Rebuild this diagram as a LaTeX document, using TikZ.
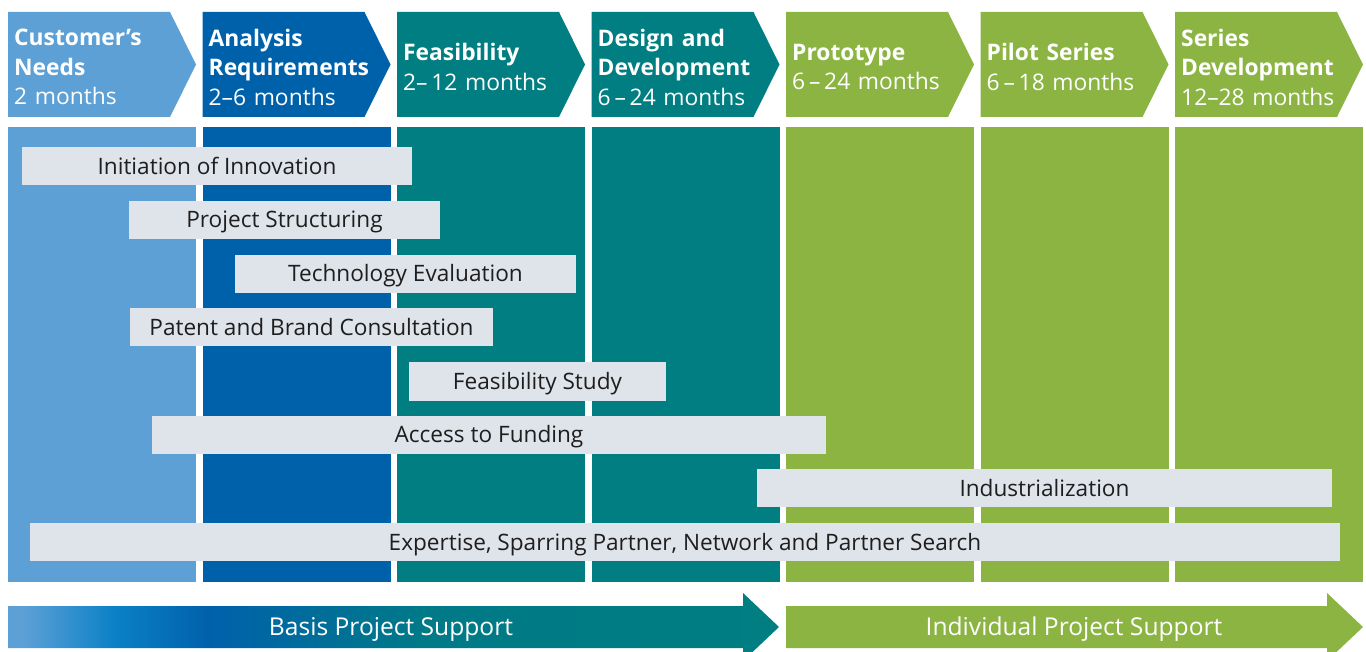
\documentclass[tikz,border=0pt]{standalone}
\usepackage{fontspec}
\setmainfont{Open Sans}
\definecolor{needsblue}{HTML}{5CA0D6}
\definecolor{analysisblue}{HTML}{0061AB}
\definecolor{midblue}{HTML}{0A80C6}
\definecolor{phaseteal}{HTML}{007E81}
\definecolor{phasegreen}{HTML}{8BB443}
\definecolor{barfill}{HTML}{DFE3EA}
\definecolor{bartext}{HTML}{1E1E1E}
\pgfdeclarehorizontalshading{basisshade}{100bp}{
	color(0bp)=(needsblue);
	color(26bp)=(needsblue);
	color(32bp)=(midblue);
	color(38bp)=(analysisblue);
	color(52bp)=(phaseteal!85!analysisblue);
	color(75bp)=(phaseteal);
	color(100bp)=(phaseteal)}
\tikzset{
	headtext/.style = {
		anchor = west,
		text = white,
		text width = 180pt,
		align = left,
		inner sep = 0pt,
		font = \fontsize{22.8}{29.5}\selectfont,
	},
	servicebar/.style = {
		fill = barfill,
		text = bartext,
		minimum height = 38pt,
		inner sep = 0pt,
		text height = 19pt,
		text depth = 3pt,
		font = \fontsize{22.6}{26}\selectfont,
	},
	supporttext/.style = {
		text = white,
		inner sep = 0pt,
		font = \fontsize{24.6}{28}\selectfont,
	},
}

\begin{document}
\begin{tikzpicture}[x = 1pt, y = -1pt]

	\clip (0,0) rectangle (1366,652);

	\foreach \i/\col/\title/\time in {
		0/needsblue/{Customer’s\\Needs}/{2 months},
		1/analysisblue/{Analysis\\Requirements}/{2–6 months},
		2/phaseteal/{Feasibility}/{2–\,12 months},
		3/phaseteal/{Design and\\Development}/{6\,–\,24 months},
		4/phasegreen/{Prototype}/{6\,–\,24 months},
		5/phasegreen/{Pilot Series}/{6\,–\,18 months},
		6/phasegreen/{Series\\Development}/{12–28 months}%
	}{
		\pgfmathsetmacro{\xa}{8 + 194.5*\i}
		\fill[\col]
			(\xa,12) -- ++(162,0) -- ++(26,52.5) -- ++(-26,52.5) -- ++(-162,0) -- cycle;
		\fill[\col]
			(\xa,127) rectangle ++(188,455);
		\node[headtext] (head\i)
			at (\xa+6,67) {\textbf{\title}\\\time};
	}

	\foreach \n/\l/\r/\y/\txt in {
		1/22/412/166.5/{Initiation of Innovation},
		2/129/440/220/{Project Structuring},
		3/235/576/274/{Technology Evaluation},
		4/130/493/327.5/{Patent and Brand Consultation},
		5/409/666/381.5/{Feasibility Study},
		6/152/826/434.5/{Access to Funding},
		7/757/1332/488/{Industrialization},
		8/30/1340/542/{Expertise, Sparring Partner, Network and Partner Search}%
	}{
		\node[servicebar, minimum width = \r-\l] (bar\n)
			at ({(\l+\r)/2},\y) {\txt};
	}

	\shade[shading = basisshade]
		(8,606) -- (743,606) -- (743,593) -- (779,627)
		-- (743,661) -- (743,648) -- (8,648) -- cycle;
	\node[supporttext] (basis) at (391,629) {Basis Project Support};

	\fill[phasegreen]
		(786,606) -- (1327,606) -- (1327,593) -- (1363,627)
		-- (1327,661) -- (1327,648) -- (786,648) -- cycle;
	\node[supporttext] (individual) at (1074,629) {Individual Project Support};

\end{tikzpicture}
\end{document}
